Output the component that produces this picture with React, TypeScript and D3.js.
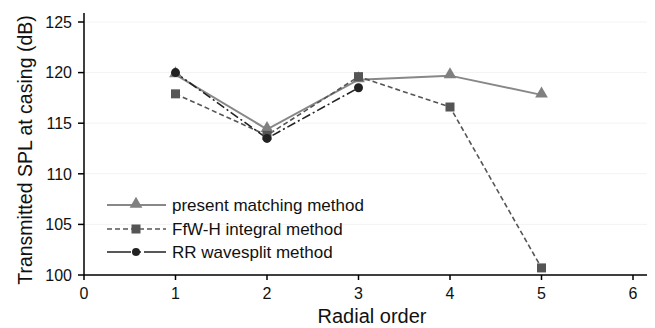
import React from "react";
import * as d3 from "d3";

const xTicks = [0, 1, 2, 3, 4, 5, 6];
const yTicks = [100, 105, 110, 115, 120, 125];
const presentX = [1, 2, 3, 4, 5];
const presentY = [119.8, 114.4, 119.3, 119.7, 117.8];
const ffwX = [1, 2, 3, 4, 5];
const ffwY = [117.9, 113.8, 119.6, 116.6, 100.7];
const rrX = [1, 2, 3];
const rrY = [120.0, 113.5, 118.5];
const legendLabels = ["present matching method", "FfW-H integral method", "RR wavesplit method"];

const W = 655, H = 328;
const left = 84, right = 633, top = 22, bottom = 275;

export default function App() {
  const x = d3.scaleLinear().domain([0, 6]).range([left, right]);
  const y = d3.scaleLinear().domain([100, 125]).range([bottom, top]);
  const line = d3.line<[number, number]>().x(d => x(d[0])).y(d => y(d[1]));
  const font = "'Liberation Sans', Arial, sans-serif";
  const pres = presentX.map((v, i) => [v, presentY[i]] as [number, number]);
  const ffw = ffwX.map((v, i) => [v, ffwY[i]] as [number, number]);
  const rr = rrX.map((v, i) => [v, rrY[i]] as [number, number]);
  const tri = d3.symbol(d3.symbolTriangle, 70)();
  const legY = [205, 229, 252];
  return (
    <svg width={W} height={H} style={{ position: "absolute", left: 0, top: 0, background: "#fff" }} fontFamily={font}>
      {yTicks.map(t => (
        <line key={"g" + t} x1={left} x2={right + 14} y1={y(t)} y2={y(t)} stroke="#f3f3f3" strokeWidth={1} />
      ))}
      {/* series */}
      <path d={line(pres) || ""} fill="none" stroke="#888" strokeWidth={2} />
      <path d={line(ffw) || ""} fill="none" stroke="#555" strokeWidth={1.6} strokeDasharray="5,3" />
      <path d={line(rr) || ""} fill="none" stroke="#222" strokeWidth={1.6} strokeDasharray="9,3,2,3" />
      {pres.map((d, i) => (
        <path key={"t" + i} d={tri || ""} transform={`translate(${x(d[0])},${y(d[1]) - 1})`} fill="#808080" />
      ))}
      {ffw.map((d, i) => (
        <rect key={"s" + i} x={x(d[0]) - 4.5} y={y(d[1]) - 4.5} width={9} height={9} fill="#555" />
      ))}
      {rr.map((d, i) => (
        <circle key={"c" + i} cx={x(d[0])} cy={y(d[1])} r={4.5} fill="#222" />
      ))}
      {/* axes */}
      <line x1={left} x2={left} y1={13} y2={bottom} stroke="#000" strokeWidth={1.5} />
      <line x1={left} x2={647} y1={bottom} y2={bottom} stroke="#000" strokeWidth={1.5} />
      {yTicks.map(t => (
        <g key={"y" + t}>
          <line x1={left - 6} x2={left} y1={y(t)} y2={y(t)} stroke="#000" strokeWidth={1.5} />
          <text x={left - 12} y={y(t)} dy="0.36em" textAnchor="end" fontSize={16} fill="#111">{t}</text>
        </g>
      ))}
      {xTicks.map(t => (
        <g key={"x" + t}>
          <line x1={x(t)} x2={x(t)} y1={bottom} y2={bottom + 5} stroke="#000" strokeWidth={1.5} />
          <text x={x(t)} y={bottom + 24} textAnchor="middle" fontSize={16} fill="#111">{t}</text>
        </g>
      ))}
      <text x={372} y={323} textAnchor="middle" fontSize={20} fill="#111">Radial order</text>
      <text transform={`translate(32,${150}) rotate(-90)`} textAnchor="middle" fontSize={19.5} fill="#111">Transmitted SPL at casing (dB)</text>
      {/* legend */}
      <line x1={107} x2={166} y1={legY[0]} y2={legY[0]} stroke="#888" strokeWidth={2} />
      <path d={tri || ""} transform={`translate(136,${legY[0] - 1})`} fill="#808080" />
      <line x1={107} x2={166} y1={legY[1]} y2={legY[1]} stroke="#555" strokeWidth={1.6} strokeDasharray="5,3" />
      <rect x={131.5} y={legY[1] - 4.5} width={9} height={9} fill="#555" />
      <line x1={107} x2={166} y1={legY[2]} y2={legY[2]} stroke="#222" strokeWidth={1.4} strokeDasharray="24,3,2,3,2,3" />
      <circle cx={136} cy={legY[2]} r={4} fill="#222" />
      {legendLabels.map((l, i) => (
        <text key={l} x={172} y={legY[i]} dy="0.36em" fontSize={17} fill="#111">{l}</text>
      ))}
    </svg>
  );
}
